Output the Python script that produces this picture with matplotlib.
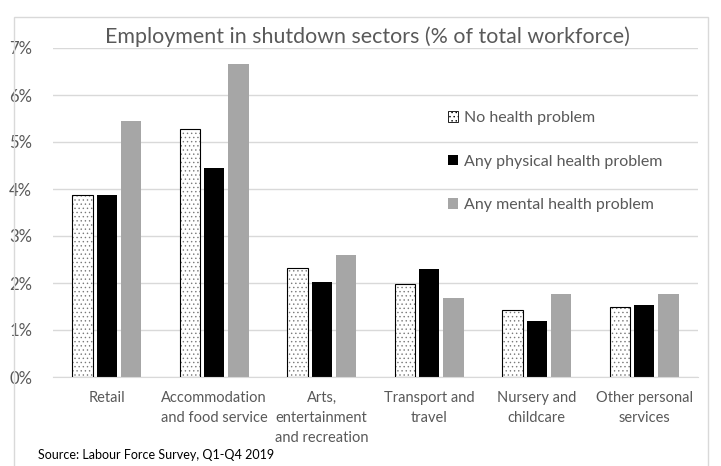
import matplotlib
matplotlib.use('Agg')
import matplotlib.pyplot as plt
import matplotlib.patches as mpatches
from matplotlib.ticker import PercentFormatter
import numpy as np

# ============ 数据 ============
categories = ['Retail', 'Accommodation\nand food service', 'Arts,\nentertainment\nand recreation',
              'Transport and\ntravel', 'Nursery and\nchildcare', 'Other personal\nservices']
no_health = [3.88, 5.27, 2.31, 1.98, 1.42, 1.50]
physical = [3.87, 4.45, 2.02, 2.30, 1.19, 1.54]
mental = [5.45, 6.65, 2.60, 1.68, 1.77, 1.77]
series_names = ['No health problem', 'Any physical health problem', 'Any mental health problem']

TEXT = '#595959'
plt.rcParams['font.family'] = ['Lato', 'DejaVu Sans']
plt.rcParams['hatch.linewidth'] = 0.5

fig = plt.figure(figsize=(7.21, 4.66), dpi=100)
ax = fig.add_axes([53 / 721, 1 - 377 / 466, (698 - 53) / 721, (377 - 48) / 466])

x = np.arange(len(categories))
w = 0.19
off = 0.226

ax.bar(x - off, no_health, w, color='white', edgecolor='#7a7a7a', hatch='....', linewidth=0, zorder=2)
ax.bar(x - off, no_health, w, fill=False, edgecolor='black', linewidth=0.8, zorder=3)
ax.bar(x, physical, w, color='black', zorder=2)
ax.bar(x + off, mental, w, color='#a6a6a6', zorder=2)

ax.set_xlim(-0.5, len(categories) - 0.5)
ax.set_ylim(0, 7)
ax.set_yticks(range(0, 8))
ax.yaxis.set_major_formatter(PercentFormatter(decimals=0))
ax.grid(axis='y', color='#d9d9d9', linewidth=1, zorder=0)
for s in ['top', 'right', 'left']:
    ax.spines[s].set_visible(False)
ax.spines['bottom'].set_color('#d9d9d9')
ax.tick_params(axis='both', length=0, colors=TEXT)
ax.tick_params(axis='y', pad=15, labelsize=12)
ax.set_xticks(x)
ax.set_xticklabels(categories, linespacing=1.55)
ax.tick_params(axis='x', pad=10, labelsize=10.5)

handles = [
    mpatches.Patch(facecolor='white', edgecolor='black', hatch='....', linewidth=0.6),
    mpatches.Patch(facecolor='black'),
    mpatches.Patch(facecolor='#a6a6a6'),
]
leg = ax.legend(handles, series_names, loc='upper left', bbox_to_anchor=(0.59, 0.852),
                frameon=False, fontsize=11.5, labelspacing=1.85, handlelength=0.65,
                handleheight=0.65, handletextpad=0.35)
for t in leg.get_texts():
    t.set_color(TEXT)

fig.text(367 / 721, 1 - 37 / 466, 'Employment in shutdown sectors (% of total workforce)',
         ha='center', va='center', fontsize=15.4, color=TEXT)
fig.text(38 / 721, 1 - 455 / 466, 'Source: Labour Force Survey, Q1-Q4 2019',
         ha='left', va='center', fontsize=9, color='black')

# 外框
fig.add_artist(mpatches.Rectangle((14 / 721, -0.01), (708 - 14) / 721, 1 - 17 / 466 + 0.01,
                                  transform=fig.transFigure, fill=False,
                                  edgecolor='#d9d9d9', linewidth=1))

plt.savefig('out.png', dpi=100)
plt.close()
